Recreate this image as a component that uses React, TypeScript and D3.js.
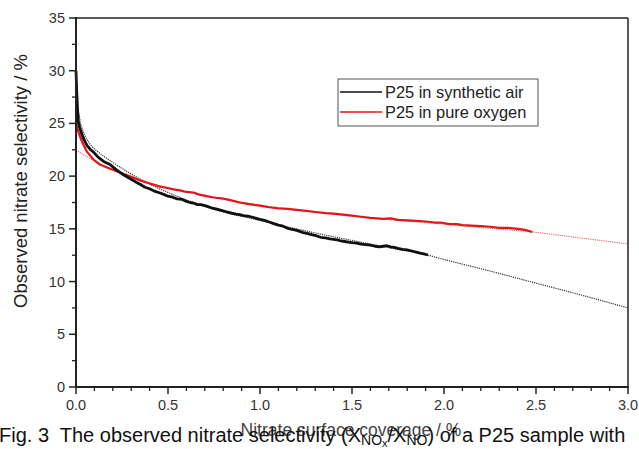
import React from "react";
import * as d3 from "d3";

const W = 639;
const H = 449;

// Observed data: P25 in synthetic air [coverage %, selectivity %]
const airX = [0, 0.004, 0.008, 0.0125, 0.02, 0.03, 0.04, 0.06, 0.08, 0.094, 0.12, 0.15, 0.185, 0.22, 0.26, 0.3, 0.33, 0.35, 0.375, 0.4, 0.43, 0.457, 0.48, 0.5, 0.525, 0.55, 0.575, 0.6, 0.62, 0.638, 0.66, 0.68, 0.71, 0.735, 0.76, 0.79, 0.82, 0.845, 0.87, 0.89, 0.91, 0.935, 0.96, 0.98, 1.0, 1.025, 1.05, 1.075, 1.1, 1.125, 1.15, 1.175, 1.2, 1.235, 1.26, 1.28, 1.305, 1.33, 1.355, 1.38, 1.4, 1.42, 1.44, 1.46, 1.48, 1.5, 1.525, 1.55, 1.575, 1.6, 1.625, 1.65, 1.67, 1.69, 1.71, 1.73, 1.75, 1.775, 1.8, 1.825, 1.85, 1.87, 1.89, 1.913];
const airY = [30.0, 28.0, 26.3, 25.2, 24.6, 24.1, 23.6, 22.9, 22.5, 22.3, 21.8, 21.4, 21.1, 20.6, 20.1, 19.7, 19.4, 19.2, 18.95, 18.8, 18.55, 18.4, 18.25, 18.1, 18.0, 17.85, 17.8, 17.6, 17.5, 17.45, 17.3, 17.3, 17.15, 17.0, 16.9, 16.75, 16.6, 16.5, 16.4, 16.35, 16.25, 16.2, 16.1, 16.0, 15.9, 15.8, 15.65, 15.5, 15.35, 15.25, 15.05, 14.95, 14.85, 14.65, 14.55, 14.45, 14.35, 14.2, 14.15, 14.05, 14.0, 13.95, 13.85, 13.8, 13.75, 13.7, 13.65, 13.55, 13.5, 13.45, 13.35, 13.3, 13.35, 13.4, 13.3, 13.25, 13.15, 13.05, 13.0, 12.9, 12.8, 12.7, 12.62, 12.52];

// Observed data: P25 in pure oxygen
const oxyX = [0, 0.002, 0.004, 0.008, 0.015, 0.025, 0.04, 0.06, 0.094, 0.13, 0.185, 0.24, 0.275, 0.32, 0.348, 0.375, 0.4, 0.43, 0.457, 0.49, 0.53, 0.565, 0.6, 0.638, 0.67, 0.71, 0.74, 0.76, 0.79, 0.82, 0.855, 0.89, 0.925, 0.96, 1.0, 1.05, 1.1, 1.15, 1.2, 1.25, 1.3, 1.36, 1.4, 1.45, 1.5, 1.55, 1.6, 1.67, 1.71, 1.75, 1.8, 1.85, 1.9, 1.95, 1.98, 2.03, 2.07, 2.1, 2.15, 2.2, 2.25, 2.3, 2.35, 2.4, 2.44, 2.48];
const oxyY = [28.5, 26.5, 24.8, 24.5, 24.1, 23.6, 23.0, 22.3, 21.6, 21.1, 20.7, 20.35, 20.1, 19.8, 19.6, 19.45, 19.3, 19.15, 19.0, 18.9, 18.75, 18.65, 18.5, 18.45, 18.25, 18.1, 18.0, 17.95, 17.9, 17.8, 17.65, 17.5, 17.4, 17.3, 17.2, 17.05, 16.95, 16.9, 16.8, 16.7, 16.6, 16.5, 16.45, 16.35, 16.25, 16.15, 16.05, 15.95, 16.0, 15.85, 15.8, 15.75, 15.7, 15.6, 15.6, 15.45, 15.45, 15.35, 15.3, 15.25, 15.2, 15.1, 15.1, 15.0, 14.9, 14.7];

// Fitted curves
const airFitX = [0, 0.01, 0.02, 0.04, 0.07, 0.1, 0.15, 0.2, 0.3, 0.4, 0.5, 0.6, 0.75, 1.0, 1.25, 1.5, 1.75, 1.913, 2.0, 2.25, 2.5, 2.75, 3.0];
const airFitY = [30.0, 26.8, 25.5, 24.2, 23.2, 22.6, 21.9, 21.3, 20.2, 19.25, 18.45, 17.75, 16.85, 15.8, 14.8, 13.9, 13.05, 12.5, 12.1, 11.0, 9.85, 8.7, 7.5];
const oxyFitX = [0, 0.05, 0.1, 0.15, 0.2, 0.3, 0.4, 0.5, 0.6, 0.75, 1.0, 1.25, 1.5, 1.75, 2.0, 2.25, 2.48, 2.75, 3.0];
const oxyFitY = [22.5, 21.95, 21.45, 21.0, 20.6, 19.9, 19.35, 18.9, 18.5, 18.0, 17.25, 16.7, 16.2, 15.8, 15.45, 15.05, 14.7, 14.12, 13.57];

const xMajor = [0, 0.5, 1.0, 1.5, 2.0, 2.5, 3.0];
const yMajor = [0, 5, 10, 15, 20, 25, 30, 35];
const seriesNames = ["P25 in synthetic air", "P25 in pure oxygen"];
const seriesColors = ["#111111", "#e3141b"];

const margin = { left: 76, top: 18, right: 628, bottom: 387 };

export default function App() {
  const x = d3.scaleLinear().domain([0, 3]).range([margin.left, margin.right]);
  const y = d3.scaleLinear().domain([0, 35]).range([margin.bottom, margin.top]);
  const line = d3
    .line<[number, number]>()
    .x((d) => x(d[0]))
    .y((d) => y(d[1]))
    .curve(d3.curveLinear);
  const smooth = d3
    .line<[number, number]>()
    .x((d) => x(d[0]))
    .y((d) => y(d[1]))
    .curve(d3.curveMonotoneX);

  const zip = (a: number[], b: number[]) => a.map((v, i) => [v, b[i]] as [number, number]);
  const air = zip(airX, airY);
  const oxy = zip(oxyX, oxyY);
  const airFit = zip(airFitX, airFitY);
  const oxyFit = zip(oxyFitX, oxyFitY);

  const xMinor = d3.range(0, 31).map((i) => i / 10).filter((v) => !xMajor.some((m) => Math.abs(m - v) < 1e-6));
  const yMinor = d3.range(0, 7).map((i) => i * 5 + 2.5);

  const font = "'Liberation Sans', Arial, sans-serif";
  const tickColor = "#333";

  return (
    <svg width={W} height={H} style={{ position: "absolute", left: 0, top: 0, background: "#fff" }} fontFamily={font}>
      <rect x={0} y={0} width={W} height={H} fill="#fff" />
      {/* fits */}
      <path d={smooth(airFit) || ""} fill="none" stroke="#333" strokeWidth={1.2} strokeDasharray="1.2,1" />
      <path d={smooth(oxyFit) || ""} fill="none" stroke="#e86068" strokeWidth={1.1} strokeDasharray="1.2,1" />
      {/* data */}
      <path d={line(oxy) || ""} fill="none" stroke={seriesColors[1]} strokeWidth={2.2} strokeLinejoin="round" />
      <path d={line(air) || ""} fill="none" stroke={seriesColors[0]} strokeWidth={2.8} strokeLinejoin="round" />

      {/* frame */}
      <line x1={margin.left} x2={margin.right} y1={margin.top} y2={margin.top} stroke="#222" strokeWidth={1.5} />
      <line x1={margin.right} x2={margin.right} y1={margin.top} y2={margin.bottom} stroke="#222" strokeWidth={1.5} />
      <line x1={margin.left} x2={margin.right + 0.75} y1={margin.bottom} y2={margin.bottom} stroke="#222" strokeWidth={2} />
      <line x1={margin.left} x2={margin.left} y1={margin.top - 0.75} y2={margin.bottom + 1} stroke="#222" strokeWidth={2} />

      {/* y ticks */}
      {yMajor.map((v) => (
        <g key={"ym" + v}>
          <line x1={margin.left - 7} x2={margin.left} y1={y(v)} y2={y(v)} stroke="#222" strokeWidth={1.5} />
          <text x={65} y={y(v) + 5} textAnchor="end" fontSize={14.5} fill={tickColor}>
            {v}
          </text>
        </g>
      ))}
      {yMinor.map((v) => (
        <line key={"yn" + v} x1={margin.left - 4} x2={margin.left} y1={y(v)} y2={y(v)} stroke="#222" strokeWidth={1.3} />
      ))}
      {/* x ticks */}
      {xMajor.map((v) => (
        <g key={"xm" + v}>
          <line x1={x(v)} x2={x(v)} y1={margin.bottom} y2={margin.bottom + 7} stroke="#222" strokeWidth={1.5} />
          <text x={x(v)} y={410} textAnchor="middle" fontSize={14.5} fill={tickColor}>
            {v.toFixed(1)}
          </text>
        </g>
      ))}
      {xMinor.map((v) => (
        <line key={"xn" + v} x1={x(v)} x2={x(v)} y1={margin.bottom} y2={margin.bottom + 4} stroke="#222" strokeWidth={1.3} />
      ))}

      {/* y title */}
      <text transform="translate(27,181) rotate(-90)" textAnchor="middle" fontSize={18.5} fill="#222">
        Observed nitrate selectivity / %
      </text>

      {/* legend */}
      <rect x={338} y={79} width={200} height={47} fill="#fff" stroke="#555" strokeWidth={1} />
      {seriesNames.map((n, i) => (
        <g key={n}>
          <line x1={340} x2={382} y1={92 + i * 20} y2={92 + i * 20} stroke={seriesColors[i]} strokeWidth={1.3} />
          <text x={385} y={98 + i * 20} fontSize={16.4} fill="#222">
            {n}
          </text>
        </g>
      ))}

      {/* x title (overlapped by caption, as in the source) */}
      <text x={351} y={436} textAnchor="middle" fontSize={17.5} fill="#444">
        Nitrate surface coverage / %
      </text>
      {/* caption */}
      <text x={-1} y={442} fontSize={20} fill="#111" style={{ whiteSpace: "pre" }}>
        {"Fig. 3  The observed nitrate selectivity (X"}
        <tspan fontSize={14} dy={3}>NO</tspan>
        <tspan fontSize={11} dy={2}>x</tspan>
        <tspan dy={-5}>/X</tspan>
        <tspan fontSize={14} dy={3}>NO</tspan>
        <tspan dy={-3}>{") of a P25 sample with"}</tspan>
      </text>
    </svg>
  );
}
